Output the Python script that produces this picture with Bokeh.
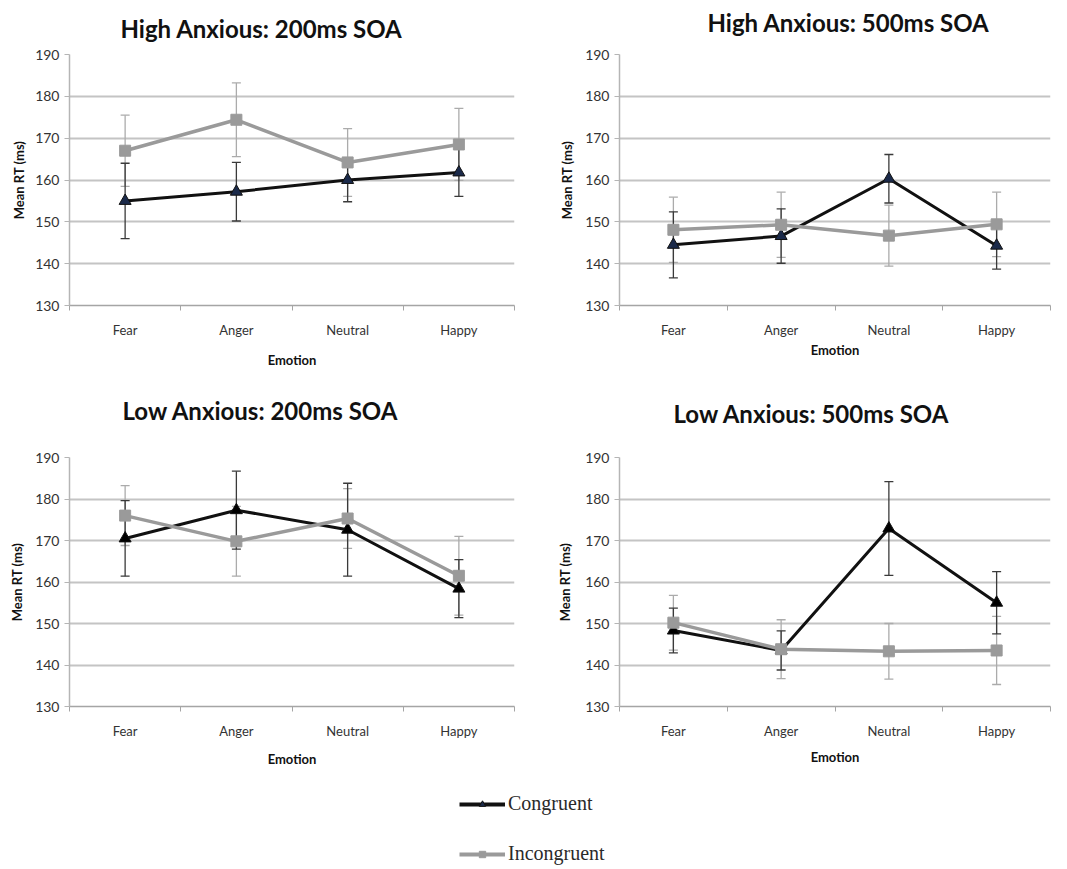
from bokeh.plotting import figure
from bokeh.models import (Range1d, FixedTicker, ColumnDataSource, Whisker, TeeHead,
                          Legend, LegendItem, Label)
from bokeh.layouts import column, row
from bokeh.embed import file_html
from bokeh.resources import INLINE

emotions = ["Fear", "Anger", "Neutral", "Happy"]
y_ticks = [130, 140, 150, 160, 170, 180, 190]

ha200_cong = [155.0, 157.2, 160.0, 161.8]
ha200_cong_err = [9.0, 7.0, 5.2, 5.7]
ha200_inc = [167.0, 174.4, 164.2, 168.5]
ha200_inc_err = [8.5, 8.8, 8.1, 8.6]

ha500_cong = [144.5, 146.6, 160.3, 144.3]
ha500_cong_err = [7.9, 6.5, 5.8, 5.6]
ha500_inc = [148.1, 149.3, 146.7, 149.4]
ha500_inc_err = [7.8, 7.8, 7.3, 7.7]

la200_cong = [170.5, 177.3, 172.6, 158.4]
la200_cong_err = [9.1, 9.4, 11.2, 7.0]
la200_inc = [176.0, 169.8, 175.3, 161.5]
la200_inc_err = [7.2, 8.4, 7.2, 9.5]

la500_cong = [148.3, 143.5, 172.9, 155.0]
la500_cong_err = [5.4, 4.7, 11.3, 7.5]
la500_inc = [150.2, 143.8, 143.3, 143.5]
la500_inc_err = [6.6, 7.1, 6.7, 8.2]

titles = ["High Anxious: 200ms SOA", "High Anxious: 500ms SOA",
          "Low Anxious: 200ms SOA", "Low Anxious: 500ms SOA"]

FONT = "Lato"
GRAY_LINE = "#9a9a9a"
GRAY_ERR = "#ababab"
BLACK = "#111111"
DARK_ERR = "#3a3a3a"
TOTAL_W = 1066

xs = [i + 0.5 for i in range(len(emotions))]


def blank(width, height):
    f = figure(width=width, height=height, output_backend="svg", toolbar_location=None,
               min_border=0, x_axis_location=None, y_axis_location=None,
               outline_line_color=None, x_range=Range1d(0, width), y_range=Range1d(0, height))
    f.grid.visible = False
    return f


def title_strip(height, specs):
    f = blank(TOTAL_W, height)
    for text, x, y in specs:
        f.add_layout(Label(x=x, y=y, text=text, text_font=FONT, text_font_size="24px",
                           text_font_style="bold", text_color="#111111",
                           text_align="left", text_baseline="middle"))
    return f


def panel(cong, cong_err, inc, inc_err, width, height, left, right, top, bottom,
          tri_color, xlab_standoff, ylab_standoff):
    p = figure(width=width, height=height, x_range=Range1d(0, len(emotions)),
               y_range=Range1d(y_ticks[0], y_ticks[-1]), output_backend="svg",
               toolbar_location=None, min_border_left=left, min_border_right=right,
               min_border_top=top, min_border_bottom=bottom, outline_line_color=None)

    p.xgrid.visible = False
    p.ygrid.grid_line_color = "#c4c4c4"
    p.ygrid.grid_line_width = 2
    p.ygrid.ticker = FixedTicker(ticks=y_ticks)

    p.yaxis.ticker = FixedTicker(ticks=y_ticks)
    p.yaxis.axis_line_color = "#b5b5b5"
    p.yaxis.axis_line_width = 1.5
    p.yaxis.major_tick_line_color = "#b5b5b5"
    p.yaxis.major_tick_out = 5
    p.yaxis.major_tick_in = 0
    p.yaxis.minor_tick_line_color = None
    p.yaxis.major_label_text_font = FONT
    p.yaxis.major_label_text_font_size = "14px"
    p.yaxis.major_label_text_color = "#333333"
    p.yaxis.axis_label = "Mean RT (ms)"
    p.yaxis.axis_label_text_font = FONT
    p.yaxis.axis_label_text_font_size = "13px"
    p.yaxis.axis_label_text_font_style = "bold"
    p.yaxis.axis_label_text_color = "#111111"
    p.yaxis.axis_label_standoff = ylab_standoff

    p.xaxis.ticker = FixedTicker(ticks=xs, minor_ticks=list(range(len(emotions) + 1)))
    p.xaxis.major_label_overrides = {x: e for x, e in zip(xs, emotions)}
    p.xaxis.major_tick_line_color = None
    p.xaxis.major_tick_out = 0
    p.xaxis.major_tick_in = 0
    p.xaxis.minor_tick_line_color = "#a5a5a5"
    p.xaxis.minor_tick_out = 5
    p.xaxis.minor_tick_in = 0
    p.xaxis.axis_line_color = "#a5a5a5"
    p.xaxis.axis_line_width = 1.5
    p.xaxis.major_label_standoff = 11
    p.xaxis.major_label_text_font = FONT
    p.xaxis.major_label_text_font_size = "13px"
    p.xaxis.major_label_text_color = "#333333"
    p.xaxis.axis_label = "Emotion"
    p.xaxis.axis_label_text_font = FONT
    p.xaxis.axis_label_text_font_size = "13px"
    p.xaxis.axis_label_text_font_style = "bold"
    p.xaxis.axis_label_text_color = "#111111"
    p.xaxis.axis_label_standoff = xlab_standoff

    src_c = ColumnDataSource(dict(x=xs, y=cong,
                                  upper=[v + e for v, e in zip(cong, cong_err)],
                                  lower=[v - e for v, e in zip(cong, cong_err)]))
    src_i = ColumnDataSource(dict(x=xs, y=inc,
                                  upper=[v + e for v, e in zip(inc, inc_err)],
                                  lower=[v - e for v, e in zip(inc, inc_err)]))

    for src, col in ((src_i, GRAY_ERR), (src_c, DARK_ERR)):
        w = Whisker(source=src, base="x", upper="upper", lower="lower",
                    line_color=col, line_width=1.3, level="underlay",
                    upper_head=TeeHead(size=9, line_color=col, line_width=1.3),
                    lower_head=TeeHead(size=9, line_color=col, line_width=1.3))
        p.add_layout(w)

    p.line("x", "y", source=src_c, line_color=BLACK, line_width=3)
    p.scatter("x", "y", source=src_c, marker="triangle", size=12,
              fill_color=tri_color, line_color=BLACK, line_width=1)
    p.line("x", "y", source=src_i, line_color=GRAY_LINE, line_width=3.5)
    p.scatter("x", "y", source=src_i, marker="square", size=11,
              fill_color=GRAY_LINE, line_color=GRAY_LINE)
    return p


t1 = title_strip(44, [(titles[0], 120, 16), (titles[1], 707, 22)])
p1 = panel(ha200_cong, ha200_cong_err, ha200_inc, ha200_inc_err,
           530, 341, 69, 16, 10, 80, "#1b2a4a", 11, 5)
p2 = panel(ha500_cong, ha500_cong_err, ha500_inc, ha500_inc_err,
           536, 341, 89, 16, 10, 80, "#1b2a4a", 1, 7)
t2 = title_strip(45, [(titles[2], 122, 20), (titles[3], 673, 17)])
p3 = panel(la200_cong, la200_cong_err, la200_inc, la200_inc_err,
           530, 350, 69, 16, 27, 74, "#000000", 9, 7)
p4 = panel(la500_cong, la500_cong_err, la500_inc, la500_inc_err,
           536, 350, 89, 16, 27, 74, "#000000", 7, 9)

nan = float("nan")
lg = blank(TOTAL_W, 88)
lc = lg.line(x=[nan], y=[nan], line_color=BLACK, line_width=4)
ls = lg.scatter(x=[nan], y=[nan], marker="triangle", size=10, fill_color="#1b2a4a", line_color=BLACK)
ic = lg.line(x=[nan], y=[nan], line_color=GRAY_LINE, line_width=4)
isq = lg.scatter(x=[nan], y=[nan], marker="square", size=12, fill_color=GRAY_LINE, line_color=GRAY_LINE)
legend = Legend(items=[LegendItem(label="Congruent", renderers=[lc, ls]),
                       LegendItem(label="Incongruent", renderers=[ic, isq])],
                location=(459, 3), margin=0, padding=0, spacing=27,
                glyph_width=46, glyph_height=16, label_height=16, label_standoff=3,
                label_text_font="Liberation Serif", label_text_font_size="20px",
                label_text_color="#2a2a2a", border_line_color=None,
                background_fill_alpha=0)
lg.add_layout(legend)

layout = column(t1, row(p1, p2), t2, row(p3, p4), lg)
open("out.html", "w").write(file_html(layout, INLINE))
